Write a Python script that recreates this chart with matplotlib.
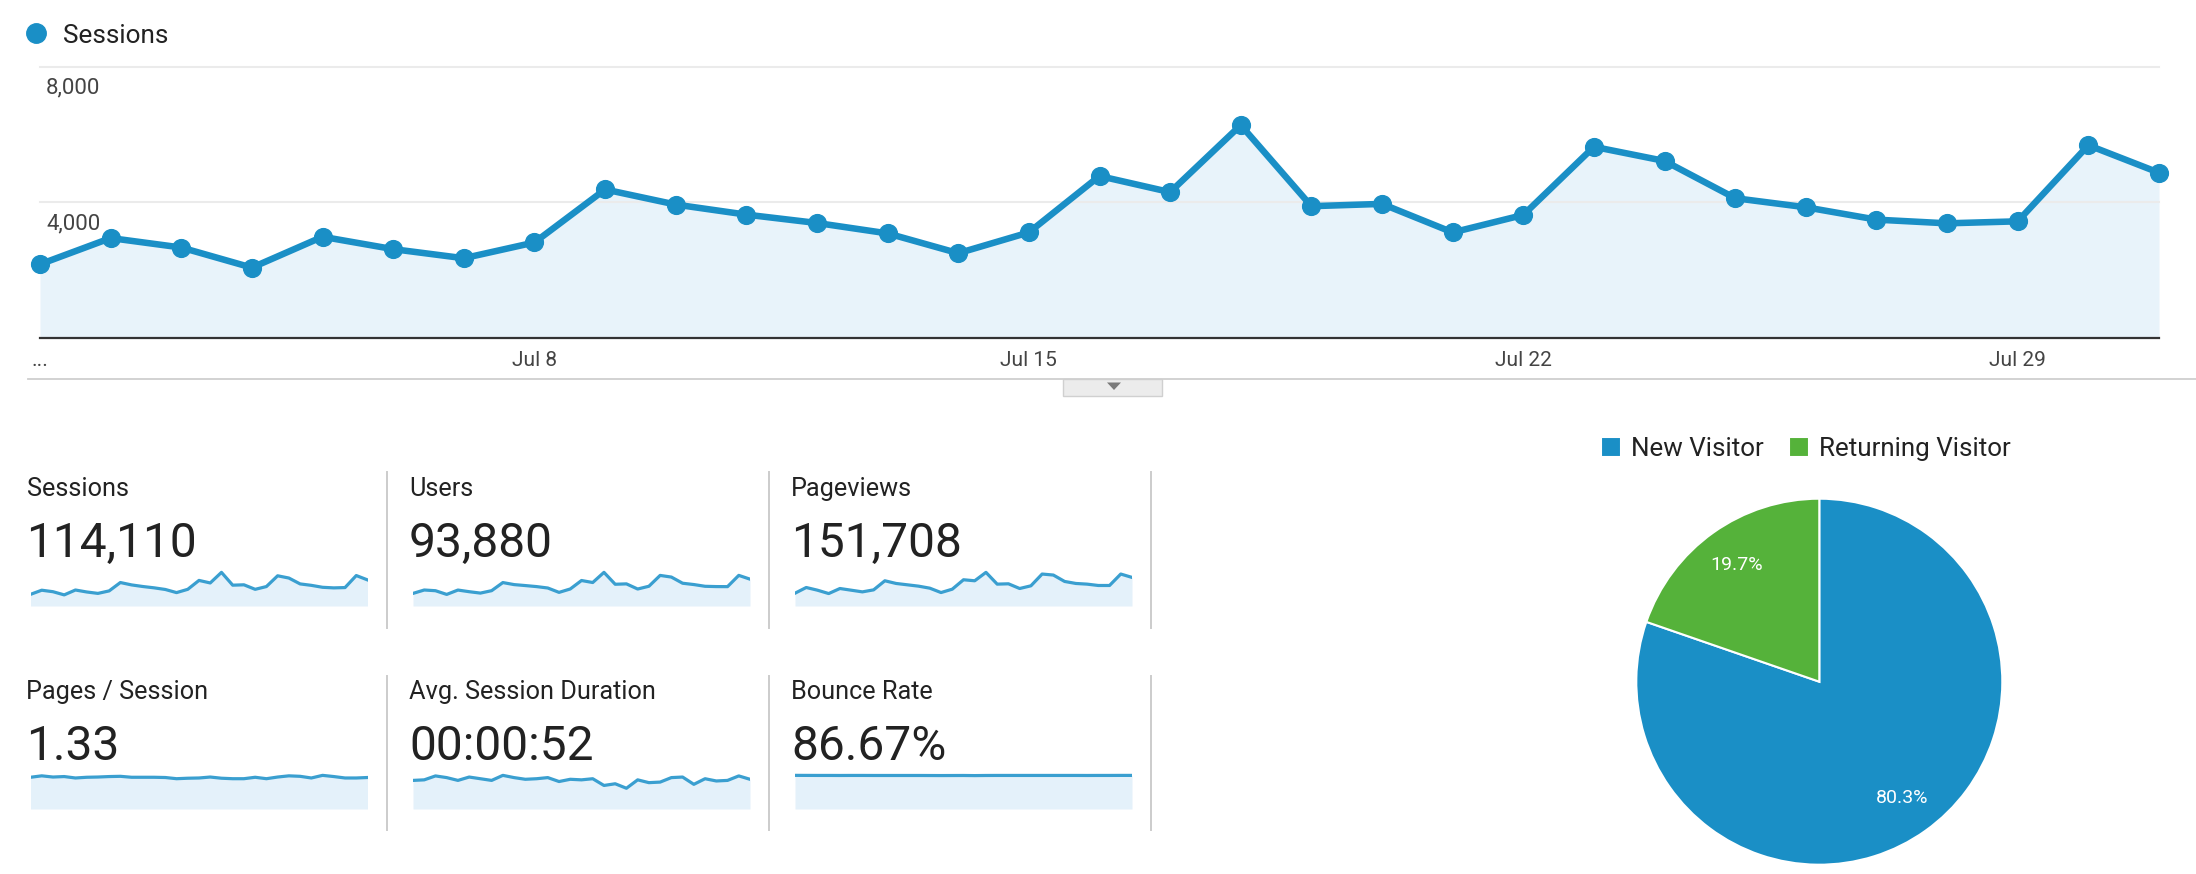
import matplotlib
matplotlib.use('Agg')
import matplotlib.pyplot as plt
import matplotlib.transforms as mtransforms
from matplotlib.patches import Rectangle, Polygon

plt.rcParams['font.family'] = ['Roboto', 'DejaVu Sans']

# ****************************** Data ****************************************
days = list(range(1, 32))      # July 1 .. July 31
sessions = [2176, 2950, 2671, 2077, 2988, 2623, 2355, 2820, 4385, 3939, 3642,
            3395, 3088, 2503, 3117, 4781, 4306, 6285, 3891, 3959, 3117, 3632,
            5644, 5226, 4127, 3859, 3494, 3385, 3444, 5691, 4879]
users = [2001, 2540, 2428, 1839, 2533, 2271, 2049, 2434, 3722, 3398, 3245,
         3081, 2858, 2163, 2704, 4047, 3729, 5341, 3452, 3514, 2697, 3135,
         4856, 4594, 3615, 3406, 3129, 3083, 3074, 4863, 4262]
pageviews = [2937, 4252, 3633, 2860, 4020, 3633, 3247, 3710, 5798, 5179, 4870,
             4561, 4097, 3092, 3865, 6029, 5798, 7730, 5025, 5102, 4020, 4638,
             7344, 7112, 5643, 5179, 5025, 4715, 4715, 7344, 6571]
pages_per_session = [1.33, 1.39, 1.34, 1.36, 1.30, 1.33, 1.34, 1.36, 1.37, 1.33,
                     1.33, 1.33, 1.32, 1.27, 1.29, 1.30, 1.34, 1.29, 1.27, 1.27,
                     1.33, 1.27, 1.34, 1.39, 1.37, 1.30, 1.41, 1.36, 1.30, 1.30, 1.32]
avg_duration = [51, 52, 59, 56, 51, 57, 54, 51, 60, 56, 53, 54, 56, 49, 53, 52,
                54, 42, 45, 37, 52, 47, 48, 56, 57, 44, 54, 50, 51, 59, 53]
bounce_rate = [86.9, 86.8, 86.7, 86.7, 86.6, 86.7, 86.7, 86.6, 86.6, 86.6, 86.6,
               86.6, 86.5, 86.4, 86.5, 86.6, 86.3, 86.6, 86.7, 86.7, 86.7, 86.7,
               86.7, 86.7, 86.7, 86.7, 86.6, 86.7, 86.7, 86.8, 86.8]

x_tick_days = [1, 8, 15, 22, 29]
x_tick_labels = ['...', 'Jul 8', 'Jul 15', 'Jul 22', 'Jul 29']
y_ticks = [4000, 8000]
y_tick_labels = ['4,000', '8,000']

kpi_names = ['Sessions', 'Users', 'Pageviews',
             'Pages / Session', 'Avg. Session Duration', 'Bounce Rate']
kpi_values = ['114,110', '93,880', '151,708', '1.33', '00:00:52', '86.67%']
kpi_series = [sessions, users, pageviews, pages_per_session, avg_duration, bounce_rate]

visitor_labels = ['New Visitor', 'Returning Visitor']
visitor_share = [80.3, 19.7]

# ****************************** Styling ****************************************
BLUE = '#1a8fc6'
GREEN = '#55b23a'
FILL = '#e8f3fa'
SPARK = '#3a9fd0'
SPARK_FILL = '#e4f1fa'
TXT = '#222222'
GRID = '#ebebeb'

W, H = 2196, 874


def box(x0, y0, x1, y1):
    # pixel box (top-left origin) -> figure fraction rect
    return [x0 / W, 1 - y1 / H, (x1 - x0) / W, (y1 - y0) / H]


fig = plt.figure(figsize=(W / 100, H / 100), dpi=100)

# overlay in pixel coordinates for the page decoration and the KPI texts
over = fig.add_axes([0, 0, 1, 1])
over.set_xlim(0, W)
over.set_ylim(H, 0)
over.axis('off')

# ****************************** Main sessions chart ****************************
ax = fig.add_axes(box(40, 67, 2159, 338))
ax.fill_between(days, sessions, color=FILL, lw=0)
for yt, lab in zip(y_ticks, y_tick_labels):
    ax.axhline(yt, color=GRID, lw=1.5, clip_on=False, zorder=1)
    tr = mtransforms.offset_copy(ax.get_yaxis_transform(), fig=fig, x=6, y=-26.5, units='dots')
    ax.text(0, yt, lab, transform=tr, ha='left', va='baseline', fontsize=16, color='#444444')
ax.plot(days, sessions, color=BLUE, lw=4.7, marker='o', ms=12.8, clip_on=False, zorder=3)
ax.set_xlim(1, 31)
ax.set_ylim(0, 8000)
ax.set_yticks([])
ax.set_xticks(x_tick_days, x_tick_labels)
ax.tick_params(axis='x', length=0, pad=9, labelsize=15, labelcolor='#444444')
for s in ['top', 'left', 'right']:
    ax.spines[s].set_visible(False)
ax.spines['bottom'].set_color('#333333')
ax.spines['bottom'].set_linewidth(1.6)
ax.spines['bottom'].set_zorder(4)
ax.patch.set_visible(False)

# legend dot + name
over.plot([36], [33], 'o', color=BLUE, ms=14)
over.text(63, 43, 'Sessions', fontsize=18.8, color=TXT, va='baseline', ha='left')

# separator line with the little toggle button
over.plot([28, W], [379, 379], color='#cfcfcf', lw=1.3)
over.add_patch(Rectangle((1063, 379), 99, 17, facecolor='#ececec', edgecolor='#d0d0d0', lw=1))
over.add_patch(Polygon([(1107, 382.5), (1121, 382.5), (1114, 390)], closed=True,
                       facecolor='#7a7a7a', edgecolor='none'))

# ****************************** KPI tiles ****************************************
col_x = [26.5, 409, 791]
label_base = [496, 699]
value_base = [557, 760]
spark_bottom = [606, 809]
div_x = [386.7, 769, 1150.7]
div_y = [(472, 628), (676, 830)]

for i, (name, value, series) in enumerate(zip(kpi_names, kpi_values, kpi_series)):
    r, c = divmod(i, 3)
    x0 = col_x[c]
    over.text(x0, label_base[r], name, fontsize=18.2, color=TXT, va='baseline', ha='left')
    over.text(x0, value_base[r], value, fontsize=34.5, color=TXT, va='baseline', ha='left')
    sp = fig.add_axes(box(x0 + 4, spark_bottom[r] - 37, x0 + 341, spark_bottom[r]))
    xs = list(range(len(series)))
    sp.fill_between(xs, series, color=SPARK_FILL, lw=0)
    sp.plot(xs, series, color=SPARK, lw=2.3)
    sp.set_xlim(0, len(series) - 1)
    sp.set_ylim(0, max(series) * 1.1)
    sp.axis('off')

for r in range(2):
    for dx in div_x:
        over.plot([dx, dx], div_y[r], color='#cccccc', lw=1.4)

# ****************************** Visitor pie ****************************************
cx, cy, rad = 1819.3, 681.7, 183
pax = fig.add_axes(box(cx - rad, cy - rad, cx + rad, cy + rad))
wedges, _, autotexts = pax.pie(visitor_share, colors=[BLUE, GREEN], startangle=90,
                               counterclock=False, autopct='%.1f%%', pctdistance=0.78,
                               wedgeprops=dict(edgecolor='white', linewidth=1.5),
                               textprops=dict(color='white', fontsize=14))
pax.set_xlim(-1, 1)
pax.set_ylim(-1, 1)

fig.legend(wedges, visitor_labels, loc='center', bbox_to_anchor=(1806 / W, 1 - 449 / H),
           ncol=2, frameon=False, fontsize=18.7, handlelength=0.78, handleheight=0.78,
           handletextpad=0.4, columnspacing=0.95, borderpad=0, borderaxespad=0,
           labelcolor=TXT)

fig.savefig('out.png', dpi=100)
